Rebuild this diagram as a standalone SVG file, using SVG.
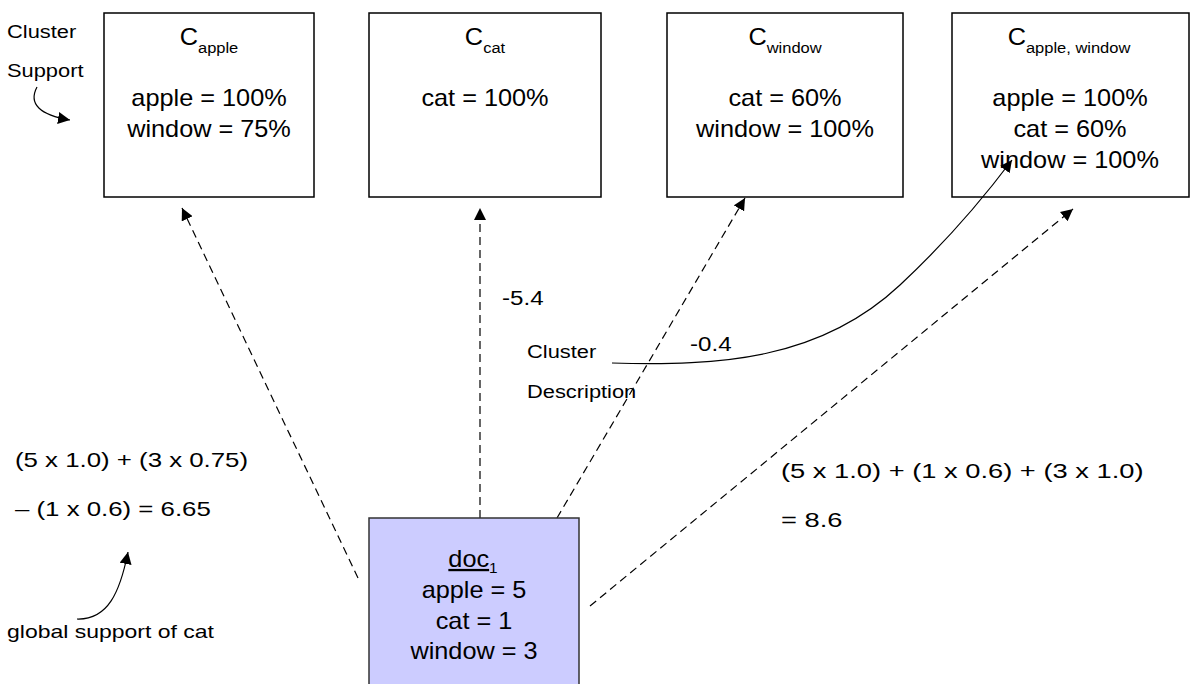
<svg xmlns="http://www.w3.org/2000/svg" width="1197" height="684" viewBox="0 0 1197 684">
  <style>
    text { font-family: "Liberation Sans", Arial, sans-serif; fill: #000; }
    .lbl { font-size: 23px; text-anchor: middle; }
    .sub { font-size: 15px; }
    .note { font-size: 19px; }
    .calc { font-size: 21px; }
    .box { fill: #fff; stroke: #000; stroke-width: 1.5; }
    .dash { fill: none; stroke: #000; stroke-width: 1.2; stroke-dasharray: 8 5; }
    .solid { fill: none; stroke: #000; stroke-width: 1.2; }
  </style>
  <defs>
    <marker id="head" markerUnits="userSpaceOnUse" markerWidth="14" markerHeight="12" refX="12" refY="6" orient="auto">
      <path d="M0,0 L12,6 L0,12 Z" fill="#000"/>
    </marker>
  </defs>
  <rect width="1197" height="684" fill="#fff"/>

  <!-- connectors -->
  <g id="connectors">
    <path class="dash" d="M358,578 L182,208" marker-end="url(#head)"/>
    <path class="dash" d="M480,518 L480,208" marker-end="url(#head)"/>
    <path class="dash" d="M557,518 L745,198" marker-end="url(#head)"/>
    <path class="dash" d="M590,606 L1073,209" marker-end="url(#head)"/>
  </g>

  <!-- cluster nodes -->
  <g id="c-apple">
    <rect class="box" x="104" y="13" width="210" height="184"/>
    <text class="lbl" transform="translate(209,45) scale(1.1,1)">C<tspan class="sub" dy="8">apple</tspan></text>
    <text class="lbl" transform="translate(209,106) scale(1.1,1)">apple = 100%</text>
    <text class="lbl" transform="translate(209,137) scale(1.1,1)">window = 75%</text>
  </g>
  <g id="c-cat">
    <rect class="box" x="369" y="13" width="232" height="184"/>
    <text class="lbl" transform="translate(485,45) scale(1.1,1)">C<tspan class="sub" dy="8">cat</tspan></text>
    <text class="lbl" transform="translate(485,106) scale(1.1,1)">cat = 100%</text>
  </g>
  <g id="c-window">
    <rect class="box" x="667" y="13" width="236" height="184"/>
    <text class="lbl" transform="translate(785,45) scale(1.1,1)">C<tspan class="sub" dy="8">window</tspan></text>
    <text class="lbl" transform="translate(785,106) scale(1.1,1)">cat = 60%</text>
    <text class="lbl" transform="translate(785,137) scale(1.1,1)">window = 100%</text>
  </g>
  <g id="c-apple-window">
    <rect class="box" x="952" y="13" width="237" height="184" stroke-width="2.2"/>
    <text class="lbl" transform="translate(1069,45) scale(1.1,1)">C<tspan class="sub" dy="8">apple, window</tspan></text>
    <text class="lbl" transform="translate(1070,106) scale(1.1,1)">apple = 100%</text>
    <text class="lbl" transform="translate(1070,137) scale(1.1,1)">cat = 60%</text>
    <text class="lbl" transform="translate(1070,168) scale(1.1,1)">window = 100%</text>
  </g>

  <!-- document node -->
  <g id="doc1">
    <rect x="369" y="518" width="210" height="180" fill="#ccccff" stroke="#333" stroke-width="1.5"/>
    <text class="lbl" transform="translate(473,567) scale(1.1,1)"><tspan text-decoration="underline">doc</tspan><tspan font-size="14" dy="6">1</tspan></text>
    <text class="lbl" transform="translate(474,598) scale(1.1,1)">apple = 5</text>
    <text class="lbl" transform="translate(474,629) scale(1.1,1)">cat = 1</text>
    <text class="lbl" transform="translate(474,659) scale(1.1,1)">window = 3</text>
  </g>

  <!-- cluster support annotation -->
  <g id="cluster-support">
    <text class="note" transform="translate(7,38) scale(1.15,1)">Cluster</text>
    <text class="note" transform="translate(7,77) scale(1.15,1)">Support</text>
    <path class="solid" d="M37,87 C28,104 40,115 70,120" marker-end="url(#head)"/>
  </g>

  <!-- cluster description annotation -->
  <g id="cluster-description">
    <text class="note" transform="translate(527,358) scale(1.15,1)">Cluster</text>
    <text class="note" transform="translate(527,398) scale(1.15,1)">Description</text>
    <path class="solid" d="M612,363 C720,366 820,360 900,285 C945,243 982,200 1012,160" marker-end="url(#head)"/>
  </g>

  <!-- scores -->
  <g id="scores">
    <text class="calc" transform="translate(502,305) scale(1.15,1)">-5.4</text>
    <text class="calc" transform="translate(690,351) scale(1.15,1)">-0.4</text>
    <text class="calc" transform="translate(15,467) scale(1.23,1)">(5 x 1.0) + (3 x 0.75)</text>
    <text class="calc" transform="translate(15,516) scale(1.23,1)">– (1 x 0.6) = 6.65</text>
    <text class="calc" transform="translate(781,478) scale(1.3,1)">(5 x 1.0) + (1 x 0.6) + (3 x 1.0)</text>
    <text class="calc" transform="translate(781,527) scale(1.3,1)">= 8.6</text>
  </g>

  <!-- global support annotation -->
  <g id="global-support">
    <path class="solid" d="M77,619 C108,620 120,592 128,552" marker-end="url(#head)"/>
    <text class="note" font-size="18" transform="translate(7,638) scale(1.21,1)">global support of cat</text>
  </g>
</svg>
